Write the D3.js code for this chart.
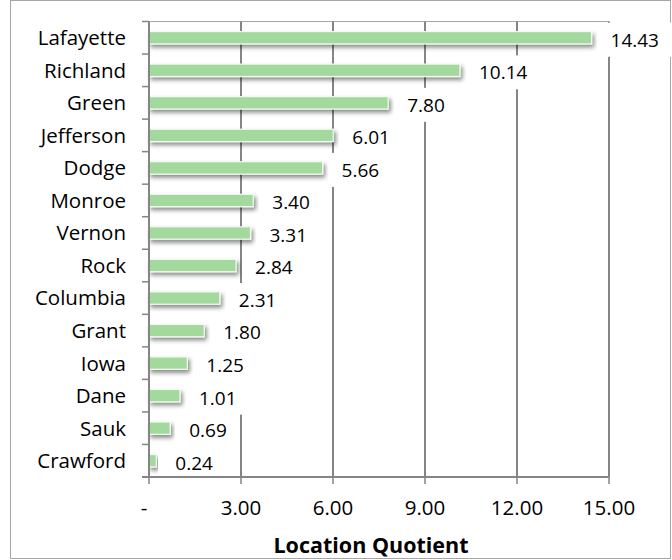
<!DOCTYPE html>
<html>
<head>
<meta charset="utf-8">
<script src="https://cdn.jsdelivr.net/npm/d3@7"></script>
<style>
  html, body { margin: 0; padding: 0; background: #fff; }
  svg { display: block; }
  text { font-family: "Open Sans", Lato, "Liberation Sans", sans-serif; fill: #000; }
</style>
</head>
<body>
<svg id="chart" width="672" height="560"></svg>
<script>
// County location quotients
const counties = ["Lafayette", "Richland", "Green", "Jefferson", "Dodge", "Monroe", "Vernon",
                  "Rock", "Columbia", "Grant", "Iowa", "Dane", "Sauk", "Crawford"];
const quotients = [14.43, 10.14, 7.80, 6.01, 5.66, 3.40, 3.31, 2.84, 2.31, 1.80, 1.25, 1.01, 0.69, 0.24];
const tickValues = [0, 3, 6, 9, 12, 15];
const tickLabels = ["-", "3.00", "6.00", "9.00", "12.00", "15.00"];
const axisTitle = "Location Quotient";

const svg = d3.select("#chart");
const plot = { left: 149, right: 609, top: 21.5, bottom: 477 };

const x = d3.scaleLinear().domain([0, 15]).range([plot.left, plot.right]);
const y = d3.scaleBand().domain(counties).range([plot.top, plot.bottom]).paddingInner(0.62).paddingOuter(0.31);

// drop shadow for bars
const defs = svg.append("defs");
const f = defs.append("filter").attr("id", "shadow")
  .attr("x", "-10%").attr("y", "-60%").attr("width", "130%").attr("height", "260%");
f.append("feDropShadow").attr("dx", 2).attr("dy", 3).attr("stdDeviation", 2)
  .attr("flood-color", "#000").attr("flood-opacity", 0.45);

// chart border
svg.append("rect").attr("x", 10.5).attr("y", 0.5).attr("width", 660).attr("height", 558)
  .attr("fill", "#fff").attr("stroke", "#a6a6a6").attr("stroke-width", 1);

// top edge of plot area
svg.append("line").attr("x1", plot.left - 6).attr("x2", plot.right)
  .attr("y1", plot.top).attr("y2", plot.top)
  .attr("stroke", "#a6a6a6").attr("stroke-width", 1);

// vertical gridlines
svg.append("g").selectAll("line").data(tickValues.slice(1)).join("line")
  .attr("x1", d => x(d)).attr("x2", d => x(d))
  .attr("y1", plot.top).attr("y2", plot.bottom)
  .attr("stroke", "#858585").attr("stroke-width", 2);

// bars
svg.append("g").selectAll("rect").data(counties).join("rect")
  .attr("x", x(0))
  .attr("y", d => y(d))
  .attr("width", (d, i) => x(quotients[i]) - x(0))
  .attr("height", y.bandwidth())
  .attr("fill", "#a3d99d")
  .attr("stroke", "#f2faf1").attr("stroke-width", 1.2)
  .attr("filter", "url(#shadow)");

// value labels with white boxes
const lbl = svg.append("g").selectAll("g").data(counties).join("g")
  .attr("transform", (d, i) => `translate(${x(quotients[i]) + 19},${y(d) + y.bandwidth() / 2 + 2})`);
lbl.append("text")
  .attr("dy", "0.36em").attr("font-size", 19)
  .text((d, i) => quotients[i].toFixed(2));
lbl.each(function () {
  const g = d3.select(this);
  const w = g.select("text").node().getComputedTextLength();
  g.insert("rect", "text").attr("x", -13).attr("y", -17).attr("width", w + 26).attr("height", 34)
    .attr("fill", "#fff");
});

// category axis (left)
const yAxis = svg.append("g");
yAxis.append("line").attr("x1", plot.left).attr("x2", plot.left)
  .attr("y1", plot.top).attr("y2", plot.bottom)
  .attr("stroke", "#858585").attr("stroke-width", 2);
const boundaries = d3.range(counties.length + 1).map(i => plot.top + i * (plot.bottom - plot.top) / counties.length);
yAxis.selectAll("line.tick").data(boundaries).join("line").attr("class", "tick")
  .attr("x1", plot.left - 7).attr("x2", plot.left)
  .attr("y1", d => d).attr("y2", d => d)
  .attr("stroke", "#858585").attr("stroke-width", 1.5);
yAxis.selectAll("text").data(counties).join("text")
  .attr("x", 126).attr("y", d => y(d) + y.bandwidth() / 2)
  .attr("dy", "0.36em").attr("text-anchor", "end").attr("font-size", 20.5)
  .text(d => d);

// value axis (bottom)
const xAxis = svg.append("g");
xAxis.append("line").attr("x1", plot.left - 7).attr("x2", plot.right)
  .attr("y1", plot.bottom).attr("y2", plot.bottom)
  .attr("stroke", "#858585").attr("stroke-width", 2);
xAxis.selectAll("line.tick").data(tickValues).join("line").attr("class", "tick")
  .attr("x1", d => x(d)).attr("x2", d => x(d))
  .attr("y1", plot.bottom).attr("y2", plot.bottom + 7)
  .attr("stroke", "#858585").attr("stroke-width", 1.5);
xAxis.selectAll("text").data(tickValues).join("text")
  .attr("x", (d, i) => x(d) + (i === 0 ? -5 : 0)).attr("y", 508)
  .attr("dy", "0.36em").attr("text-anchor", "middle").attr("font-size", 20.5)
  .text((d, i) => tickLabels[i]);

svg.append("text").attr("x", 371).attr("y", 545).attr("dy", "0.36em")
  .attr("text-anchor", "middle").attr("font-size", 21.5).attr("font-weight", "bold")
  .text(axisTitle);
</script>
</body>
</html>
